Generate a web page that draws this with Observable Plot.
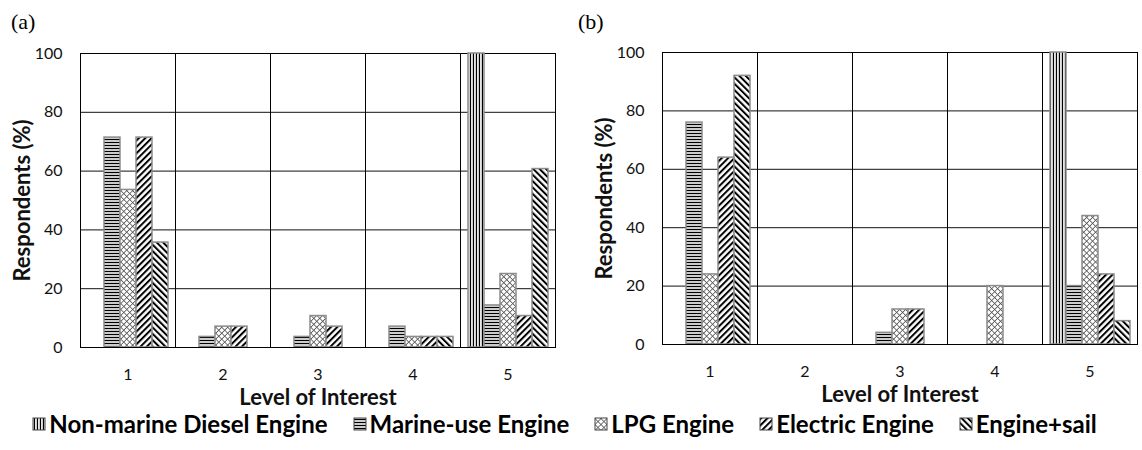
<!DOCTYPE html>
<html>
<head>
<meta charset="utf-8">
<script src="https://cdn.jsdelivr.net/npm/d3@7"></script>
<script src="https://cdn.jsdelivr.net/npm/@observablehq/plot@0.6"></script>
<style>
  body { margin: 0; background: #fff; width: 1142px; height: 450px; position: relative; overflow: hidden; font-family: Lato, sans-serif; }
  .panel { position: absolute; top: 0; }
  .tag { position: absolute; font-family: "Liberation Serif", serif; font-size: 22px; line-height: 22px; color: #000; }
  g[aria-label="y-axis label"] text, g[aria-label="fx-axis label"] text { font-weight: 700; font-size: 22px; }
  #legend { position: absolute; left: 0; top: 409px; width: 1156px; }
  #legend .lg-swatches { justify-content: center; min-height: 0; margin: 0; }
  #legend, #legend * { font-family: Lato, sans-serif !important; font-weight: 700 !important; font-size: 24px !important; color: #000; }
  #legend .lg-swatch { margin-right: 26px !important; }
  #legend .lg-swatch > svg { margin-right: 4px !important; }
  #legend .lg-swatch rect { stroke: #444; stroke-width: 1; }
</style>
</head>
<body>
<svg width="0" height="0" style="position:absolute">
  <defs>
    <pattern id="pat-vertical" width="3" height="3" patternUnits="userSpaceOnUse">
      <rect width="3" height="3" fill="#fff"/><rect x="0.8" width="1.3" height="3" fill="#000"/>
    </pattern>
    <pattern id="pat-horizontal" width="3" height="3" patternUnits="userSpaceOnUse">
      <rect width="3" height="3" fill="#fff"/><rect y="0.8" width="3" height="1.4" fill="#000"/>
    </pattern>
    <pattern id="pat-cross" width="4.2" height="4.2" patternUnits="userSpaceOnUse" patternTransform="rotate(45)">
      <rect width="4.2" height="4.2" fill="#fff"/><rect width="0.8" height="4.2" fill="#555"/><rect width="4.2" height="0.8" fill="#555"/>
    </pattern>
    <pattern id="pat-forward" width="4.5" height="4.5" patternUnits="userSpaceOnUse" patternTransform="rotate(45)">
      <rect width="4.5" height="4.5" fill="#fff"/><rect width="2" height="4.5" fill="#000"/>
    </pattern>
    <pattern id="pat-back" width="4.5" height="4.5" patternUnits="userSpaceOnUse" patternTransform="rotate(-45)">
      <rect width="4.5" height="4.5" fill="#fff"/><rect width="2" height="4.5" fill="#000"/>
    </pattern>
  </defs>
</svg>

<div class="tag" style="left:11px;top:11px">(a)</div>
<div id="panel-a" class="panel" style="left:0px"></div>
<div class="tag" style="left:578px;top:11px">(b)</div>
<div id="panel-b" class="panel" style="left:571px"></div>
<div id="legend"></div>

<script>
// Levels of interest (x categories) and engine types (series)
const levels = ["1", "2", "3", "4", "5"];
const engines = ["Non-marine Diesel Engine", "Marine-use Engine", "LPG Engine", "Electric Engine", "Engine+sail"];
const engineFills = ["url(#pat-vertical)", "url(#pat-horizontal)", "url(#pat-cross)", "url(#pat-forward)", "url(#pat-back)"];
const yTicks = [0, 20, 40, 60, 80, 100];
const gridValues = [20, 40, 60, 80];

// Panel (a): respondents (%) per level of interest
const aNonMarine = [0, 0, 0, 0, 100];
const aMarine    = [71.4, 3.6, 3.6, 7.1, 14.3];
const aLPG       = [53.6, 7.1, 10.7, 3.6, 25.0];
const aElectric  = [71.4, 7.1, 7.1, 3.6, 10.7];
const aSail      = [35.7, 0, 0, 3.6, 60.7];

// Panel (b): respondents (%) per level of interest
const bNonMarine = [0, 0, 0, 0, 100];
const bMarine    = [76, 0, 4, 0, 20];
const bLPG       = [24, 0, 12, 20, 44];
const bElectric  = [64, 0, 12, 0, 24];
const bSail      = [92, 0, 0, 0, 8];

function toRows(series) {
  return engines.flatMap((engine, i) =>
    levels.map((level, j) => ({engine, level, value: series[i][j]}))
  ).filter(d => d.value > 0);
}

const gridRows = levels.flatMap(level => gridValues.map(v => ({level, v})));

function panel({series, marginLeft, marginRight, marginTop, bottom}) {
  const height = 430;
  return Plot.plot({
    width: 571,
    height,
    marginLeft,
    marginRight,
    marginTop,
    marginBottom: height - bottom,
    fx: {domain: levels, padding: 0},
    x: {domain: engines, paddingInner: 0, paddingOuter: 0.32, axis: null},
    y: {domain: [0, 100]},
    color: {domain: engines, range: engineFills},
    style: {fontFamily: "Lato, sans-serif", fontSize: "16px", color: "#111", background: "transparent", overflow: "visible"},
    marks: [
      Plot.ruleY(gridRows, {fx: "level", y: "v", stroke: "#111", strokeWidth: 1}),
      Plot.frame({stroke: "#000", strokeWidth: 1}),
      Plot.barY(toRows(series), {fx: "level", x: "engine", y: "value", fill: "engine", stroke: "#8c8c8c", strokeWidth: 1.5}),
      Plot.ruleY([0], {stroke: "#000", strokeWidth: 1.2}),
      Plot.axisY({ticks: yTicks, tickSize: 0, tickPadding: 18, fontSize: 16,
        label: "Respondents (%)", labelAnchor: "center", labelArrow: "none", labelOffset: 66}),
      Plot.axisFx({anchor: "bottom", tickSize: 0, tickPadding: 21, fontSize: 16,
        label: "Level of Interest", labelAnchor: "center", labelOffset: 57})
    ]
  });
}

document.getElementById("panel-a").append(panel({
  series: [aNonMarine, aMarine, aLPG, aElectric, aSail],
  marginLeft: 78, marginRight: 14, marginTop: 53, bottom: 347
}));

document.getElementById("panel-b").append(panel({
  series: [bNonMarine, bMarine, bLPG, bElectric, bSail],
  marginLeft: 89, marginRight: 3, marginTop: 52, bottom: 344
}));

document.getElementById("legend").append(Plot.legend({
  color: {type: "ordinal", domain: engines, range: engineFills},
  swatchSize: 12,
  className: "lg"
}));
</script>
</body>
</html>
